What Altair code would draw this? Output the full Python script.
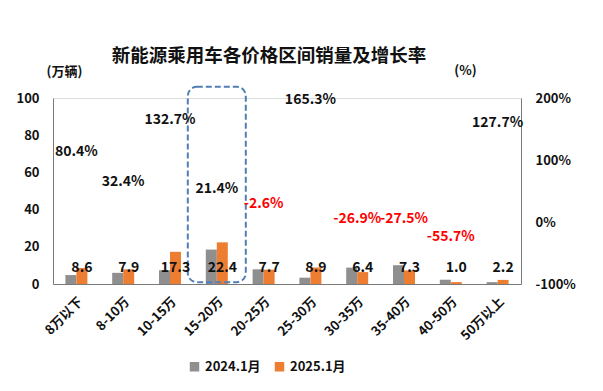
import altair as alt
import pandas as pd

categories = ["8万以下", "8-10万", "10-15万", "15-20万", "20-25万",
              "25-30万", "30-35万", "35-40万", "40-50万", "50万以上"]
sales_2024 = [4.8, 6.0, 7.4, 18.5, 7.9, 3.4, 8.8, 10.1, 2.3, 1.0]
sales_2025 = [8.6, 7.9, 17.3, 22.4, 7.7, 8.9, 6.4, 7.3, 1.0, 2.2]
growth = [80.4, 32.4, 132.7, 21.4, -2.6, 165.3, -26.9, -27.5, -55.7, 127.7]
series = ["2024.1月", "2025.1月"]
highlight_cat = ["15-20万"]
highlight_range = [106, 1]

FONT = "Noto Sans CJK SC"

bars_df = pd.DataFrame({
    "cat": categories * 2,
    "series": [series[0]] * len(categories) + [series[1]] * len(categories),
    "value": sales_2024 + sales_2025,
})
lab_df = pd.DataFrame({"cat": categories, "series": series[1], "value": sales_2025,
                       "zero": [0] * len(categories),
                       "label": [f"{v:.1f}" for v in sales_2025]})
g_df = pd.DataFrame({"cat": categories, "growth": growth,
                     "label": [f"{v:.1f}%" for v in growth],
                     "neg": [v < 0 for v in growth]})
h_df = pd.DataFrame({"cat": highlight_cat, "top": [highlight_range[0]], "bot": [highlight_range[1]]})

xenc = alt.X("cat:N", sort=categories,
             scale=alt.Scale(paddingInner=0.53, paddingOuter=0.265),
             axis=alt.Axis(title=None, labelAngle=-45, labelFont=FONT, labelFontSize=13,
                           labelFontWeight="bold", labelColor="#111", ticks=False,
                           domainColor="#7a7a7a", labelPadding=11))
left_axis = alt.Axis(values=[0, 20, 40, 60, 80, 100], grid=False, ticks=False,
                     labelOverlap=False, labelAlign="right", labelBaseline="middle",
                     title="(万辆)", titleAngle=0, titleX=11, titleY=-20,
                     titleAlign="center", titleFont=FONT, titleFontSize=13,
                     titleFontWeight="bold", titleColor="#111",
                     labelFont=FONT, labelFontSize=13, labelFontWeight="bold",
                     labelColor="#111", labelPadding=14, domainColor="#7a7a7a")

bars = alt.Chart(bars_df).mark_bar().encode(
    x=xenc,
    xOffset=alt.XOffset("series:N", sort=series),
    y=alt.Y("value:Q", scale=alt.Scale(domain=[0, 100], nice=False), axis=left_axis),
    color=alt.Color("series:N", sort=series,
                    scale=alt.Scale(domain=series, range=["#8f8f8f", "#ed7d31"]),
                    legend=alt.Legend(title=None, orient="none", direction="horizontal",
                                      legendX=135, legendY=262, symbolType="square",
                                      symbolSize=90, labelFont=FONT, labelFontSize=13,
                                      labelFontWeight="bold", labelColor="#111",
                                      columnPadding=12)),
)

vals = alt.Chart(lab_df).mark_text(font=FONT, fontSize=14, fontWeight="bold",
                                   color="#111", dy=-16, baseline="middle").encode(
    x=alt.X("cat:N", sort=categories),
    xOffset=alt.XOffset("series:N", sort=series),
    y=alt.Y("zero:Q", scale=alt.Scale(domain=[0, 100], nice=False), axis=None),
    text="label:N",
)

box = alt.Chart(h_df).mark_bar(width=58, cornerRadius=9, fillOpacity=0, fill="white",
                               stroke="#4f7fb5", strokeWidth=2,
                               strokeDash=[6, 3]).encode(
    x=alt.X("cat:N", sort=categories),
    y=alt.Y("top:Q", scale=alt.Scale(domain=[0, 100], nice=False), axis=None),
    y2="bot:Q",
)

gtext = alt.Chart(g_df).mark_text(font=FONT, fontSize=14, fontWeight="bold",
                                  dy=-20, baseline="middle").encode(
    x=alt.X("cat:N", sort=categories),
    y=alt.Y("growth:Q", scale=alt.Scale(domain=[-100, 200], nice=False),
            axis=alt.Axis(orient="right", values=[-100, 0, 100, 200], grid=False,
                          ticks=False, labelExpr="datum.value + '%'", labelOverlap=False,
                          labelAlign="left", labelBaseline="middle",
                          title="(%)", titleAngle=0, titleX=-56, titleY=-21,
                          titleAlign="center", titleFont=FONT, titleFontSize=13,
                          titleFontWeight="bold", titleColor="#111",
                          labelFont=FONT, labelFontSize=13, labelFontWeight="bold",
                          labelColor="#111", labelPadding=14, domainColor="#7a7a7a")),
    text="label:N",
    color=alt.condition(alt.datum.neg, alt.value("#ff0000"), alt.value("#111111")),
)

chart = alt.layer(bars, box, vals, gtext).resolve_scale(y="independent").properties(
    width=468, height=186,
    title=alt.TitleParams("新能源乘用车各价格区间销量及增长率", font=FONT, fontSize=18.5,
                          fontWeight="bold", color="#111", anchor="middle", dx=-18,
                          offset=-1),
    padding={"left": 7, "top": 38, "right": 5, "bottom": 5},
).configure_view(stroke=None).configure(background="white")

chart.save("out.html", embed_options={"renderer": "svg", "actions": False})
